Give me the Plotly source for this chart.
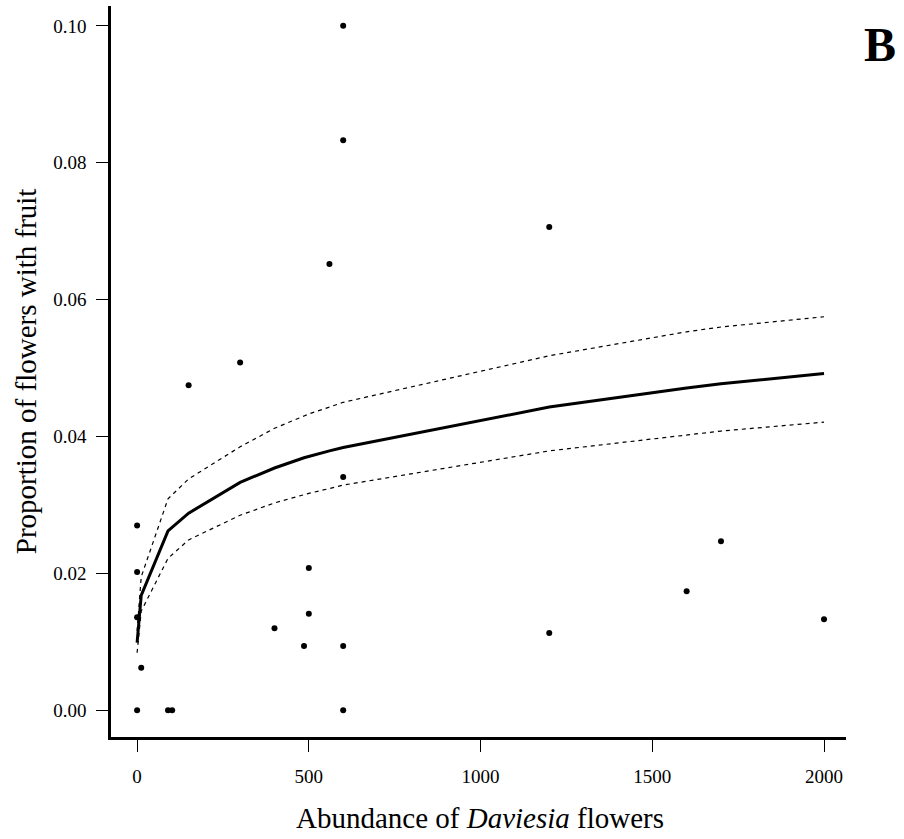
import plotly.graph_objects as go

# Observed data
obs_x = [0, 0, 0, 0, 12, 90, 102, 150, 300, 400, 486, 500, 500, 560,
         600, 600, 600, 600, 600, 1200, 1200, 1600, 1700, 2000]
obs_y = [0.0, 0.0270, 0.0202, 0.0136, 0.0062, 0.0, 0.0, 0.0475, 0.0508, 0.0120,
         0.0094, 0.0208, 0.0141, 0.0652, 0.1000, 0.0833, 0.0341, 0.0094, 0.0,
         0.0706, 0.0113, 0.0174, 0.0247, 0.0133]

# Fitted curve and confidence band
fit_x = [0, 12, 90, 150, 300, 400, 486, 500, 560, 600, 1200, 1600, 1700, 2000]
fit_y = [0.0099, 0.0168, 0.0262, 0.0288, 0.0333, 0.0354, 0.0369, 0.0371, 0.0379,
         0.0384, 0.0443, 0.0471, 0.0477, 0.0492]
fit_lo = [0.0084, 0.0145, 0.0222, 0.0249, 0.0285, 0.0303, 0.0315, 0.0317, 0.0324,
          0.0329, 0.0379, 0.0403, 0.0408, 0.0421]
fit_hi = [0.0116, 0.0195, 0.0309, 0.0338, 0.0385, 0.0412, 0.0430, 0.0433, 0.0443,
          0.0450, 0.0518, 0.0553, 0.0560, 0.0575]

x_ticks = [0, 500, 1000, 1500, 2000]
y_ticks = [0.0, 0.02, 0.04, 0.06, 0.08, 0.10]
y_tick_text = ["0.00", "0.02", "0.04", "0.06", "0.08", "0.10"]

FONT = "Liberation Serif, Times New Roman, serif"

fig = go.Figure()
fig.add_trace(go.Scatter(x=fit_x, y=fit_hi, mode="lines",
                         line=dict(color="black", width=1.2, dash="4px,4px")))
fig.add_trace(go.Scatter(x=fit_x, y=fit_lo, mode="lines",
                         line=dict(color="black", width=1.2, dash="4px,4px")))
fig.add_trace(go.Scatter(x=fit_x, y=fit_y, mode="lines",
                         line=dict(color="black", width=3)))
fig.add_trace(go.Scatter(x=obs_x, y=obs_y, mode="markers",
                         marker=dict(color="black", size=6)))

fig.update_layout(
    width=904, height=839,
    margin=dict(l=111, r=58, t=6, b=102),
    paper_bgcolor="white", plot_bgcolor="white",
    showlegend=False,
    font=dict(family=FONT, color="black"),
    xaxis=dict(range=[-76, 2064], tickvals=x_ticks, showgrid=False, zeroline=False,
               showline=True, linecolor="black", linewidth=2.5,
               ticks="outside", ticklen=12, tickwidth=1.2, tickcolor="black",
               tickfont=dict(size=19, family=FONT), ticklabelstandoff=8),
    yaxis=dict(range=[-0.0039, 0.1029], tickvals=y_ticks, ticktext=y_tick_text,
               showgrid=False, zeroline=False,
               showline=True, linecolor="black", linewidth=2.5,
               ticks="outside", ticklen=12, tickwidth=1.2, tickcolor="black",
               tickfont=dict(size=19, family=FONT), ticklabelstandoff=6),
    annotations=[
        dict(text="Abundance of <i>Daviesia</i> flowers", xref="paper", yref="paper",
             x=0.502, y=-0.111, xanchor="center", yanchor="middle", showarrow=False,
             font=dict(size=29, family=FONT)),
        dict(text="Proportion of flowers with fruit", xref="paper", yref="paper",
             x=-0.116, y=0.5, xanchor="center", yanchor="middle", showarrow=False,
             textangle=-90, font=dict(size=29, family=FONT)),
        dict(text="<b>B</b>", xref="paper", yref="paper",
             x=1.046, y=0.947, xanchor="center", yanchor="middle", showarrow=False,
             font=dict(size=48, family=FONT)),
    ],
)

fig.write_html("out.html")
